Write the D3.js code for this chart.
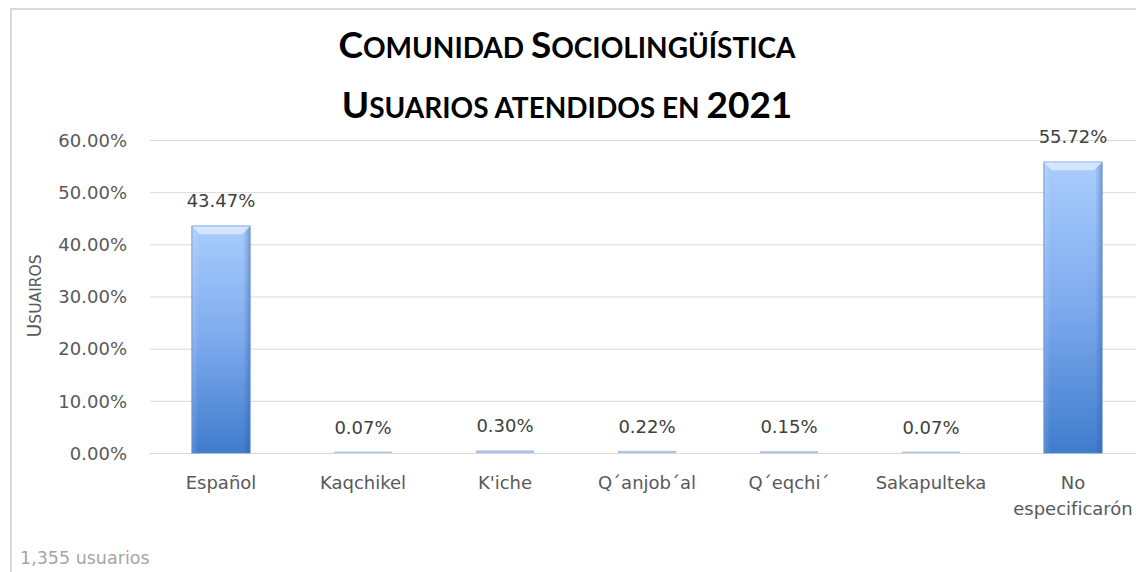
<!DOCTYPE html>
<html lang="es">
<head>
  <meta charset="UTF-8">
  <title>Comunidad Sociolingüística</title>
  <style>
    body { margin: 0; background: #fff; }
    .chart text { font-family: "DejaVu Sans", sans-serif; }
    .y-axis .domain { display: none; }
    .y-axis line { stroke: #d9d9d9; }
    .y-axis text { fill: #595959; font-size: 18px; }
  </style>
</head>
<body>
  <svg class="chart"></svg>
  <script src="https://cdn.jsdelivr.net/npm/d3@7"></script>
  <script>
    var categories = ["Español", "Kaqchikel", "K'iche", "Q´anjob´al", "Q´eqchi´", "Sakapulteka", "No especificarón"];
    var values = [0.4347, 0.0007, 0.0030, 0.0022, 0.0015, 0.0007, 0.5572];
    var valueLabels = ["43.47%", "0.07%", "0.30%", "0.22%", "0.15%", "0.07%", "55.72%"];
    var yTicks = [0, 0.1, 0.2, 0.3, 0.4, 0.5, 0.6];

    var width = 1136, height = 572;
    var plot = { left: 150, right: 1144, top: 140, bottom: 453 };

    var svg = d3.select("svg")
      .attr("width", width)
      .attr("height", height);

    // marco del gráfico
    svg.append("rect")
      .attr("x", 11).attr("y", 9)
      .attr("width", width).attr("height", height)
      .attr("fill", "none")
      .attr("stroke", "#d9d9d9")
      .attr("stroke-width", 2);

    var x = d3.scaleBand()
      .domain(categories)
      .range([plot.left, plot.right])
      .paddingInner(0.59)
      .paddingOuter(0.295);

    var y = d3.scaleLinear()
      .domain([0, 0.6])
      .range([plot.bottom, plot.top]);

    var val = d => values[categories.indexOf(d)];

    var defs = svg.append("defs");
    var grad = defs.append("linearGradient")
      .attr("id", "barGrad")
      .attr("x1", 0).attr("y1", 0).attr("x2", 0).attr("y2", 1);
    grad.append("stop").attr("offset", "0%").attr("stop-color", "#a9cdfc");
    grad.append("stop").attr("offset", "50%").attr("stop-color", "#7eaaee");
    grad.append("stop").attr("offset", "100%").attr("stop-color", "#3f7ccc");

    var side = defs.append("linearGradient")
      .attr("id", "sideGrad")
      .attr("x1", 0).attr("y1", 0).attr("x2", 1).attr("y2", 0);
    side.append("stop").attr("offset", "0%").attr("stop-color", "#ffffff").attr("stop-opacity", 0.15);
    side.append("stop").attr("offset", "12%").attr("stop-color", "#ffffff").attr("stop-opacity", 0);
    side.append("stop").attr("offset", "88%").attr("stop-color", "#1f4f99").attr("stop-opacity", 0);
    side.append("stop").attr("offset", "100%").attr("stop-color", "#1f4f99").attr("stop-opacity", 0.35);

    svg.append("g")
      .attr("class", "y-axis")
      .attr("transform", "translate(" + plot.left + ",0)")
      .call(d3.axisLeft(y)
        .tickValues(yTicks)
        .tickFormat(d3.format(".2%"))
        .tickSize(-(width - plot.left))
        .tickPadding(23))
      .selectAll("text")
      .attr("dy", "0.35em");

    var bars = svg.append("g").selectAll("g")
      .data(categories)
      .enter()
      .append("g");

    bars.append("rect")
      .attr("x", d => x(d))
      .attr("y", d => y(val(d)) - 1)
      .attr("width", x.bandwidth())
      .attr("height", d => plot.bottom - y(val(d)) + 1)
      .attr("fill", d => val(d) > 0.01 ? "url(#barGrad)" : "#a9c4ea");

    var big = bars.filter(d => val(d) > 0.01);

    big.append("rect")
      .attr("x", d => x(d))
      .attr("y", d => y(val(d)))
      .attr("width", x.bandwidth())
      .attr("height", d => plot.bottom - y(val(d)))
      .attr("fill", "url(#sideGrad)")
      .attr("stroke", "#5b89c9")
      .attr("stroke-width", 0.8);

    // bisel superior
    big.append("path")
      .attr("d", function (d) {
        var x0 = x(d), x1 = x(d) + x.bandwidth(), t = y(val(d)), b = 8;
        return "M" + x0 + "," + t + "L" + x1 + "," + t + "L" + (x1 - b) + "," + (t + b) +
          "L" + (x0 + b) + "," + (t + b) + "Z";
      })
      .attr("fill", "#dcebff")
      .attr("opacity", 0.85);

    svg.append("g").selectAll("text")
      .data(categories)
      .enter()
      .append("text")
      .attr("x", d => x(d) + x.bandwidth() / 2)
      .attr("y", d => y(val(d)) - 19)
      .attr("text-anchor", "middle")
      .attr("fill", "#404040")
      .style("font-size", "18px")
      .text((d, i) => valueLabels[i]);

    // etiquetas de categoría
    var catLabels = svg.append("g").selectAll("text")
      .data(categories)
      .enter()
      .append("text")
      .attr("x", d => x(d) + x.bandwidth() / 2)
      .attr("y", 489)
      .attr("text-anchor", "middle")
      .attr("fill", "#595959")
      .style("font-size", "18px");

    catLabels.each(function (d) {
      var words = d === "No especificarón" ? ["No", "especificarón"] : [d];
      var t = d3.select(this);
      words.forEach(function (w, k) {
        t.append("tspan")
          .attr("x", x(d) + x.bandwidth() / 2)
          .attr("dy", k === 0 ? 0 : 26)
          .text(w);
      });
    });

    // versalitas: mayúsculas y cifras grandes, minúsculas como mayúsculas pequeñas
    function smallCaps(sel, str, big, small) {
      var runs = [];
      Array.from(str).forEach(function (ch) {
        var isBig = ch !== ch.toLowerCase() || /[0-9 ]/.test(ch);
        if (ch === " " && runs.length) isBig = runs[runs.length - 1].big;
        if (runs.length && runs[runs.length - 1].big === isBig) runs[runs.length - 1].text += ch;
        else runs.push({ big: isBig, text: ch });
      });
      runs.forEach(function (r) {
        sel.append("tspan")
          .style("font-size", (r.big ? big : small) + "px")
          .text(r.text.toUpperCase());
      });
    }

    var yTitle = svg.append("text")
      .attr("transform", "translate(41,296) rotate(-90)")
      .attr("text-anchor", "middle")
      .attr("fill", "#595959");
    smallCaps(yTitle, "Usuairos", 19, 15.5);

    var title1 = svg.append("text")
      .attr("x", 567).attr("y", 58)
      .attr("text-anchor", "middle")
      .attr("fill", "#000")
      .style("font-family", "Lato, sans-serif")
      .style("font-weight", "bold");
    smallCaps(title1, "Comunidad Sociolingüística", 37, 28);

    var title2 = svg.append("text")
      .attr("x", 567).attr("y", 118)
      .attr("text-anchor", "middle")
      .attr("fill", "#000")
      .style("font-family", "Lato, sans-serif")
      .style("font-weight", "bold");
    smallCaps(title2, "Usuarios atendidos en 2021", 37, 28);

    svg.append("text")
      .attr("x", 20)
      .attr("y", 564)
      .attr("fill", "#a6a6a6")
      .style("font-size", "17.5px")
      .text("1,355 usuarios");
  </script>
</body>
</html>
